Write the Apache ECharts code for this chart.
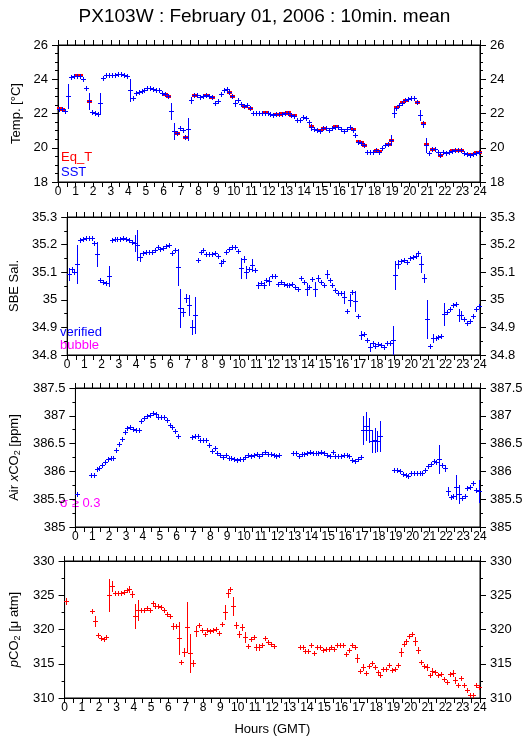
<!DOCTYPE html>
<html>
<head>
<meta charset="utf-8">
<script src="https://cdn.jsdelivr.net/npm/echarts@6/dist/echarts.min.js"></script>
<style>
  html, body { margin: 0; padding: 0; background: #fff; }
  #chart { width: 529px; height: 739px; }
</style>
</head>
<body>
<div id="chart"></div>
<script>
// 10-minute means, 6 slots per hour (one line per hour), null = no data
const STEP = 1 / 6;
const hourTicks = ['0','1','2','3','4','5','6','7','8','9','10','11','12','13','14','15','16','17','18','19','20','21','22','23','24'];

const sst = [
  22.28, 22.27, 22.15, 23.0, 24.13, 24.18,
  24.2, 24.2, 24.0, 23.5, 22.75, 22.07,
  22.02, 21.97, 22.6, 24.05, 24.22, 24.25,
  24.25, 24.25, 24.3, 24.3, 24.25, 24.2,
  23.38, 22.92, 23.17, 23.25, 23.3, 23.4,
  23.5, 23.5, 23.42, 23.4, 23.35, 23.2,
  23.13, 23.0, 22.12, 21.0, 20.85, 21.14,
  21.05, 20.6, 21.12, 22.78, 23.08, 23.07,
  22.95, 23.05, 23.08, 23.05, 22.98, 22.62,
  22.74, 23.13, 23.38, 23.42, 23.28, 23.03,
  22.62, 22.8, 22.56, 22.45, 22.48, 22.3,
  22.05, 22.05, 22.05, 22.05, 22.05, 22.05,
  21.95, 21.93, 21.95, 21.98, 22.0, 22.02,
  22.05, 21.92, 21.88, 21.6, 21.62, 21.78,
  21.73, 21.51, 21.24, 21.12, 21.05, 21.0,
  21.18, 21.15, 21.05, 21.15, 21.24, 21.2,
  21.1, 20.97, 21.1, 21.2, 21.05, 20.74,
  20.35, 20.3, 20.14, 19.77, 19.77, 19.78,
  19.85, 19.78, 20.0, 20.15, 20.2, 20.43,
  22.02, 22.35, 22.5, 22.64, 22.76, 22.85,
  22.92, 22.92, 22.68, 21.9, 21.4, 20.17,
  19.68, 19.92, 19.9, 19.75, 19.58, 19.73,
  19.72, 19.75, 19.82, 19.85, 19.85, 19.85,
  19.67, 19.65, 19.6, 19.62, 19.72, 19.75
];
const sstSd = [[3,0.7],[10,0.45],[14,0.6],[24,0.65],[38,0.45],[39,0.45],[43,0.1],[44,0.65],[45,0.15],
  [53,0.1],[55,0.1],[60,0.15],[81,0.12],[86,0.15],[101,0.12],[113,0.3],[114,0.25],[122,0.1],
  [123,0.3],[124,0.2],[125,0.4],[129,0.1]];

const eqT = [
  22.3, 22.28, null, null, null, null,
  24.22, 24.22, null, null, 22.75, null,
  null, null, null, null, null, null,
  null, null, null, null, null, null,
  null, null, null, null, null, null,
  null, null, null, null, null, null,
  23.14, 23.02, null, null, 20.88, null,
  null, 20.6, null, null, 23.1, null,
  null, null, 23.1, null, 22.98, null,
  null, null, null, null, 23.28, 23.04,
  null, null, null, 22.46, null, 22.3,
  null, null, null, null, 22.07, null,
  null, null, 21.96, 21.99, 22.02, 22.04,
  22.06, 21.93, 21.9, null, null, null,
  null, null, 21.25, null, null, 21.01,
  21.18, null, null, null, 21.25, null,
  null, null, null, null, 21.07, null,
  20.37, 20.32, 20.15, null, null, null,
  19.87, 19.8, null, null, 20.21, 20.45,
  null, 22.36, null, 22.66, 22.78, null,
  null, null, 22.69, null, 21.42, 20.2,
  null, 19.94, null, null, 19.6, null,
  null, null, 19.84, 19.87, 19.87, 19.87,
  null, null, 19.62, null, 19.75, 19.77
];

const sal = [
  35.093, 35.113, 35.1, 35.13, 35.215, 35.22,
  35.225, 35.225, 35.225, 35.205, 35.165, 35.07,
  35.065, 35.062, 35.085, 35.215, 35.22, 35.22,
  35.222, 35.225, 35.222, 35.215, 35.21, 35.205,
  35.2, 35.155, 35.17, 35.172, 35.172, 35.175,
  35.18, 35.19, 35.185, 35.188, 35.195, 35.2,
  35.17, 35.18, 35.12, 34.97, 34.955, 35.005,
  34.98, 34.9, 34.945, 35.145, 35.175, 35.18,
  35.165, 35.165, 35.167, 35.168, 35.16, 35.135,
  35.14, 35.172, 35.185, 35.192, 35.192, 35.178,
  35.117, 35.147, 35.1, 35.11, 35.125, 35.108,
  35.052, 35.062, 35.055, 35.073, 35.068, 35.088,
  35.088, 35.058, 35.065, 35.058, 35.055, 35.055,
  35.058, 35.045, 35.04, 35.08, 35.065, 35.04,
  35.045, 35.075, 35.04, 35.078, 35.065, 35.055,
  35.092, 35.07, 35.055, 35.035, 35.025, 35.025,
  35.01, 34.96, 35.0, 35.03, 34.995, 34.94,
  34.872, 34.875, 34.855, 34.828, 34.845, 34.832,
  34.84, 34.835, 34.828, 34.845, 34.845, 34.855,
  35.09, 35.128, 35.14, 35.143, 35.138, 35.15,
  35.155, 35.16, 35.168, 35.128, 35.08, 34.93,
  34.832, 34.862, 34.862, 34.865, 34.868, 34.95,
  34.955, 34.965, 34.98, 34.983, 34.945, 34.945,
  34.93, 34.915, 34.925, 34.94, 34.965, 34.978
];
const salSd = [[0,0.022],[3,0.07],[10,0.045],[14,0.035],[23,0.03],[24,0.055],[25,0.015],[38,0.065],
  [39,0.07],[40,0.015],[41,0.015],[42,0.035],[43,0.025],[44,0.065],[53,0.012],[60,0.035],[61,0.012],
  [62,0.02],[64,0.02],[66,0.012],[68,0.012],[70,0.015],[83,0.02],[86,0.025],[87,0.012],[90,0.015],
  [96,0.02],[98,0.02],[100,0.035],[102,0.015],[105,0.015],[113,0.05],[114,0.05],[115,0.015],
  [123,0.03],[124,0.015],[125,0.07],[127,0.015],[131,0.04],[136,0.02],[137,0.015]];

const airCO2 = [
  385.6, null, null, null, null, 385.93,
  385.93, 386.05, 386.06, 386.12, 386.17, 386.22,
  386.24, 386.25, 386.38, 386.5, 386.58, 386.7,
  386.78, 386.8, 386.76, 386.74, 386.74, 386.9,
  386.96, 386.99, 387.02, 387.05, 387.04, 386.97,
  386.97, 386.97, 386.93, 386.84, 386.8, 386.72,
  386.64, null, null, null, null, 386.62,
  386.63, 386.63, 386.56, 386.56, 386.56, 386.48,
  386.37, 386.42, 386.33, 386.3, 386.26, 386.3,
  386.25, 386.25, 386.23, 386.21, 386.22, 386.22,
  386.26, 386.29, 386.27, 386.3, 386.32, 386.28,
  386.32, 386.34, 386.32, 386.31, 386.3, 386.27,
  386.29, null, null, null, null, 386.33,
  386.33, 386.28, 386.31, 386.32, 386.33, 386.35,
  386.33, 386.33, 386.33, 386.35, 386.33, 386.3,
  386.28, 386.34, 386.28, 386.28, 386.28, 386.29,
  386.3, 386.27, 386.2, 386.19, 386.22, 386.26,
  386.74, 386.82, 386.74, 386.55, 386.56, 386.55,
  386.64, null, null, null, null, 386.02,
  386.02, 386.0, 385.96, 385.93, 385.92, 385.97,
  385.98, 385.98, 385.98, 385.98, 386.02, 386.1,
  386.13, 386.18, 386.17, 386.22, 386.12, 386.06,
  385.65, 385.54, 385.56, 385.72, 385.59, 385.53,
  385.55, 385.7, 385.72, 385.8, 385.66, 385.65
];
const airSd = [[5,0.03],[6,0.03],[29,0.03],[34,0.03],[36,0.03],[43,0.04],[49,0.03],[51,0.04],
  [53,0.03],[78,0.03],[93,0.03],[98,0.03],[102,0.25],[103,0.25],[104,0.22],[105,0.2],[106,0.22],
  [107,0.18],[108,0.27],[120,0.04],[121,0.04],[122,0.04],[123,0.04],[124,0.04],[125,0.03],
  [129,0.25],[131,0.06],[132,0.07],[135,0.22],[136,0.17],[143,0.2]];

const pco2 = [
  324.2, null, null, null, null, null,
  null, null, null, 322.7, 321.3, 319.2,
  318.8, 318.6, 318.9, 325.1, 326.3, 325.4,
  325.4, 325.4, 325.5, 325.7, 325.9, 325.2,
  321.9, 322.8, 322.9, 322.9, 323.2, 322.9,
  323.8, 323.4, 323.4, 323.3, 322.9, 322.2,
  321.9, 320.5, 320.5, 318.7, 315.2, 316.7,
  320.4, 316.5, 315.1, 319.8, 320.6, 319.9,
  319.4, 319.9, 319.8, 319.9, 320.1, 319.5,
  320.8, 322.6, 325.4, 325.9, 323.4, 320.7,
  319.4, 320.3, 318.9, 317.6, 318.6, 318.9,
  317.5, 317.5, 317.8, 318.7, 318.2, 317.9,
  317.6, null, null, null, null, null,
  null, null, null, 317.4, 317.4, 316.8,
  316.8, 317.7, 316.5, 317.4, 317.5, 317.0,
  317.2, 317.1, 317.5, 317.2, 317.8, 317.7,
  317.7, 316.4, 317.0, 317.8, 317.5, 315.8,
  314.0, 314.5, 313.7, 314.7, 315.1, 314.5,
  313.8, 313.3, 314.2, 314.2, 314.8, 314.1,
  314.2, 314.8, 316.7, 317.9, 318.3, 319.0,
  319.4, 318.3, 317.0, 315.3, 314.7, 314.5,
  313.4, 313.9, 313.8, 313.4, 313.5, 312.8,
  312.4, 313.5, 313.6, 312.7, 311.9, 312.9,
  311.9, 311.2, 310.5, 310.5, 311.9, 311.6
];
const pco2Sd = [[0,0.5],[9,0.3],[10,0.8],[11,0.3],[14,0.3],[15,2.4],[16,0.7],[20,0.3],[22,0.4],
  [23,0.5],[24,1.7],[25,1.4],[37,0.4],[39,2.3],[41,0.6],[42,3.6],[43,2.8],[44,0.5],[45,0.7],
  [53,0.3],[54,0.3],[55,1.0],[56,0.6],[58,1.3],[59,0.4],[60,0.4],[61,0.5],[62,0.8],[63,0.3],
  [66,0.5],[67,0.4],[69,0.3],[81,0.3],[85,0.3],[92,0.3],[101,0.6],[102,0.3],[103,0.4],[107,0.3],
  [116,0.6],[117,0.3],[121,0.6],[122,0.5],[123,0.3],[125,0.5],[127,0.5],[129,0.3],[134,0.4],
  [135,0.5],[136,0.3],[138,0.3],[141,0.3],[142,0.3]];

const FONT = 'Liberation Sans, Arial, Helvetica, sans-serif';
const BLUE = '#0000ff', RED = '#ff0000', MAGENTA = '#ff00ff';

function toPoints(values, sd) {
  const sdMap = {};
  (sd || []).forEach(p => { sdMap[p[0]] = p[1]; });
  const out = [];
  values.forEach((v, k) => {
    if (v === null) return;
    out.push([(k + 0.5) * STEP, v, sdMap[k] || 0]);
  });
  return out;
}

// a cross: horizontal bar over the 10-min slot, vertical bar = +-sd (at least minArm px)
// drawn as pixel-aligned filled rects so the colours stay pure
function crossSeries(name, grid, values, sd, color, barHeight, minArm) {
  return {
    name: name,
    type: 'custom',
    xAxisIndex: grid * 2,
    yAxisIndex: grid * 2,
    data: toPoints(values, sd),
    encode: { x: 0, y: 1 },
    silent: true,
    renderItem: function (params, api) {
      const c = api.coord([api.value(0), api.value(1)]);
      const px = Math.round(c[0]);
      const py = Math.round(c[1]);
      const arm = Math.round(Math.max(api.size([0, api.value(2)])[1], minArm));
      const kids = [{
        type: 'rect',
        shape: { x: px - 2, y: py - Math.floor(barHeight / 2), width: 5, height: barHeight },
        style: { fill: color, stroke: null }
      }];
      if (arm > 0) {
        kids.push({
          type: 'rect',
          shape: { x: px, y: py - arm, width: 1, height: 2 * arm + 1 },
          style: { fill: color, stroke: null }
        });
      }
      return { type: 'group', children: kids };
    }
  };
}

const grids = [
  { left: 58, width: 422, top: 45, height: 137 },
  { left: 58, width: 422, top: 217, height: 138 },
  { left: 58, width: 422, top: 388, height: 139 },
  { left: 58, width: 422, top: 561, height: 137 }
].map(g => Object.assign(g, { show: true, borderColor: '#000', borderWidth: 1, backgroundColor: 'transparent' }));

function hoursAxis(i, pos) {
  const ax = {
    type: 'value', gridIndex: i, position: pos, min: 0, max: 24, interval: 0.5,
    axisLine: { show: true, onZero: false, lineStyle: { color: '#000', width: 1 } },
    axisTick: { show: true, inside: false, length: 5, lineStyle: { color: '#000' } },
    axisLabel: {
      show: pos === 'bottom', margin: 4, fontSize: 12, color: '#000', fontFamily: FONT,
      formatter: v => (v % 1 === 0 ? hourTicks[v] : '')
    },
    splitLine: { show: false }
  };
  if (i === 3 && pos === 'bottom') {
    ax.name = 'Hours (GMT)';
    ax.nameLocation = 'middle';
    ax.nameGap = 25;
    ax.nameTextStyle = { fontSize: 13, color: '#000', fontFamily: FONT };
  }
  return ax;
}

const richName = {
  i: { fontStyle: 'italic', fontSize: 13, fontFamily: FONT, color: '#000' },
  s: { fontSize: 9, fontFamily: FONT, color: '#000', padding: [6, 0, 0, 0] }
};

function valueAxis(i, pos, min, max, interval, minorSplit, name, nameGap) {
  const ax = {
    type: 'value', gridIndex: i, position: pos, min: min, max: max, interval: interval,
    axisLine: { show: true, onZero: false, lineStyle: { color: '#000', width: 1 } },
    axisTick: { show: true, inside: false, length: 6, lineStyle: { color: '#000' } },
    minorTick: { show: true, splitNumber: minorSplit, length: 3, lineStyle: { color: '#000' } },
    axisLabel: { margin: 10, fontSize: 13, color: '#000', fontFamily: FONT },
    splitLine: { show: false }
  };
  if (name) {
    ax.name = name;
    ax.nameLocation = 'middle';
    ax.nameGap = nameGap;
    ax.nameTextStyle = { fontSize: 13, color: '#000', fontFamily: FONT, rich: richName };
  }
  return ax;
}

const xAxes = [], yAxes = [];
const yDefs = [
  [18, 26, 2, 4, 'Temp. [°C]', 27],
  [34.8, 35.3, 0.1, 2, 'SBE Sal.', 40],
  [385, 387.5, 0.5, 2, 'Air {i|x}CO{s|2} [ppm]', 44],
  [310, 330, 5, 2, '{i|p}CO{s|2} [μ atm]', 33]
];
yDefs.forEach((d, i) => {
  xAxes.push(hoursAxis(i, 'bottom'));
  xAxes.push(hoursAxis(i, 'top'));
  yAxes.push(valueAxis(i, 'left', d[0], d[1], d[2], d[3], d[4], d[5]));
  yAxes.push(valueAxis(i, 'right', d[0], d[1], d[2], d[3]));
});

function legendText(x, y, text, color) {
  return {
    type: 'text', left: x, top: y,
    style: { text: text, fill: color, font: '13px ' + FONT }
  };
}

const chart = echarts.init(document.getElementById('chart'), null, { renderer: 'canvas' });
chart.setOption({
  animation: false,
  backgroundColor: '#fff',
  title: {
    text: 'PX103W : February 01, 2006 : 10min. mean',
    left: 'center', top: 2,
    textStyle: { fontSize: 19, fontWeight: 'normal', color: '#000', fontFamily: FONT }
  },
  grid: grids,
  xAxis: xAxes,
  yAxis: yAxes,
  graphic: [
    legendText(61, 151, 'Eq_T', RED),
    legendText(61, 166, 'SST', BLUE),
    legendText(60, 326, 'verified', BLUE),
    legendText(60, 339, 'bubble', MAGENTA),
    legendText(60, 497, 'σ ≥ 0.3', MAGENTA)
  ],
  series: [
    crossSeries('Eq_T', 0, eqT, null, RED, 3, 0),
    crossSeries('SST', 0, sst, sstSd, BLUE, 1, 2),
    crossSeries('SBE Sal.', 1, sal, salSd, BLUE, 1, 2),
    crossSeries('Air xCO2', 2, airCO2, airSd, BLUE, 1, 2),
    crossSeries('pCO2', 3, pco2, pco2Sd, RED, 1, 2)
  ]
});
</script>
</body>
</html>
